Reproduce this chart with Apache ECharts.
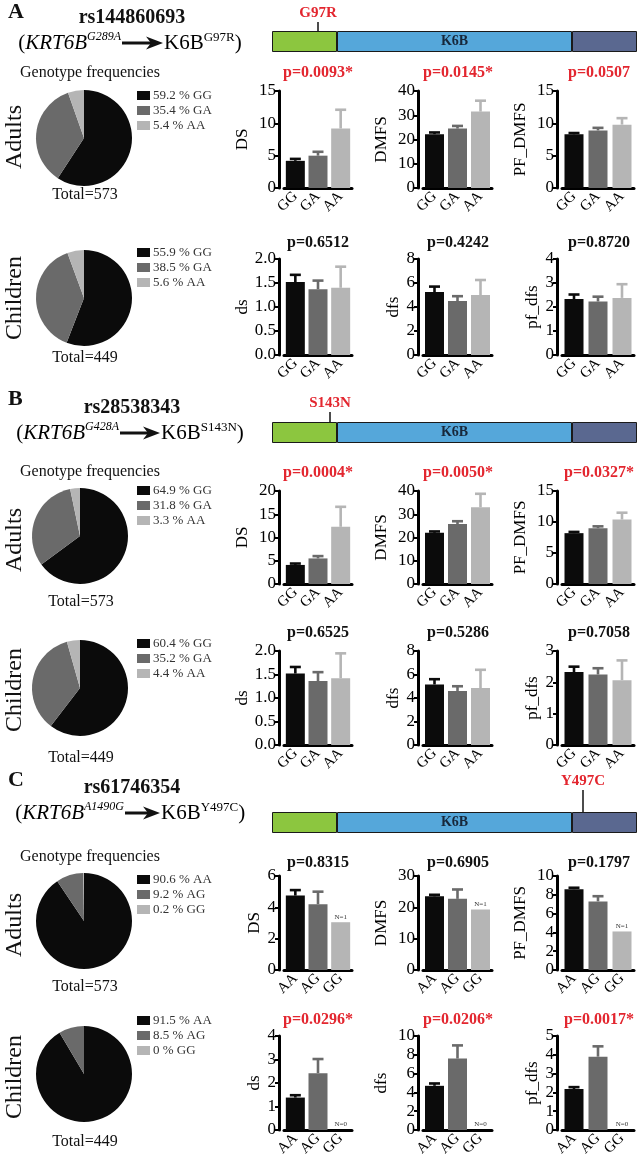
<!DOCTYPE html>
<html><head><meta charset="utf-8">
<script src="https://cdn.jsdelivr.net/npm/echarts/dist/echarts.min.js"></script>
<style>html,body{margin:0;padding:0;background:#fff}#c{width:643px;height:1160px}</style>
</head><body><div id="c"></div><script>
const FONT = 'Liberation Serif';
const RED = '#e3262f';
const SHADES = ['#0b0b0b', '#6a6a6a', '#b5b5b5'];
const DOMCOL = ['#8cc63f', '#55a7da', '#5a6890'];

// ---- categories ----
const genoGA = ['GG', 'GA', 'AA'];
const genoAG = ['AA', 'AG', 'GG'];

// ---- genotype frequencies (%) ----
const pieA_adults = [59.2, 35.4, 5.4];
const pieA_children = [55.9, 38.5, 5.6];
const pieB_adults = [64.9, 31.8, 3.3];
const pieB_children = [60.4, 35.2, 4.4];
const pieC_adults = [90.6, 9.2, 0.2];
const pieC_children = [91.5, 8.5, 0];
const totals = ['Total=573', 'Total=449'];

// ---- bar means and mean+SEM tops ----
const A1_DS = [4.2, 5.0, 9.2],      A1_DS_top = [4.5, 5.6, 12.1];
const A1_DMFS = [22.2, 24.5, 31.5], A1_DMFS_top = [22.9, 25.6, 36.0];
const A1_PF = [8.3, 8.9, 9.8],      A1_PF_top = [8.5, 9.3, 10.8];
const A2_ds = [1.52, 1.37, 1.40],   A2_ds_top = [1.67, 1.55, 1.84];
const A2_dfs = [5.25, 4.5, 5.0],    A2_dfs_top = [5.7, 4.9, 6.25];
const A2_pf = [2.33, 2.23, 2.38],   A2_pf_top = [2.52, 2.43, 2.95];

const B1_DS = [4.1, 5.5, 12.3],     B1_DS_top = [4.4, 6.0, 16.6];
const B1_DMFS = [22.0, 25.8, 33.0], B1_DMFS_top = [22.6, 27.0, 38.8];
const B1_PF = [8.2, 9.0, 10.4],     B1_PF_top = [8.4, 9.3, 11.5];
const B2_ds = [1.52, 1.36, 1.42],   B2_ds_top = [1.66, 1.55, 1.95];
const B2_dfs = [5.15, 4.6, 4.85],   B2_dfs_top = [5.6, 5.0, 6.4];
const B2_pf = [2.33, 2.25, 2.07],   B2_pf_top = [2.5, 2.45, 2.7];

const C1_DS = [4.75, 4.2, 3.05],    C1_DS_top = [5.1, 5.0, null];
const C1_DMFS = [23.5, 22.7, 19.3], C1_DMFS_top = [24.0, 25.7, null];
const C1_PF = [8.6, 7.3, 4.1],      C1_PF_top = [8.75, 7.85, null];
const C2_ds = [1.38, 2.42, 0],      C2_ds_top = [1.48, 3.02, null];
const C2_dfs = [4.7, 7.6, 0],       C2_dfs_top = [4.95, 9.0, null];
const C2_pf = [2.18, 3.9, 0],       C2_pf_top = [2.28, 4.45, null];

const nC1 = ['', '', 'N=1'];
const nC2 = ['', '', 'N=0'];

// ---- p values ----
const pA1 = ['p=0.0093*', 'p=0.0145*', 'p=0.0507'];
const pA2 = ['p=0.6512', 'p=0.4242', 'p=0.8720'];
const pB1 = ['p=0.0004*', 'p=0.0050*', 'p=0.0327*'];
const pB2 = ['p=0.6525', 'p=0.5286', 'p=0.7058'];
const pC1 = ['p=0.8315', 'p=0.6905', 'p=0.1797'];
const pC2 = ['p=0.0296*', 'p=0.0206*', 'p=0.0017*'];

// ---- protein diagram ----
const domainLengths = [65, 235, 65];
const domainNames = ['', 'K6B', ''];
const mutationPos = [46, 58, 311];
const mutationName = ['G97R', 'S143N', 'Y497C'];
const panelLetters = ['A', 'B', 'C'];
const snpIds = ['rs144860693', 'rs28538343', 'rs61746354'];
const geneChange = ['G289A', 'G428A', 'A1490G'];
const protChange = ['G97R', 'S143N', 'Y497C'];

// ---- layout ----
const cols = [
  {left: 284, width: 68, pX: 318},
  {left: 423, width: 69, pX: 458},
  {left: 562, width: 72, pX: 599}
];
const rows = [
  {top: 91, h: 97, pY: 73},
  {top: 259, h: 96, pY: 243},
  {top: 491, h: 93, pY: 473},
  {top: 651, h: 94, pY: 633},
  {top: 876, h: 94, pY: 863},
  {top: 1036, h: 94, pY: 1020}
];

const charts = [
  {r:0,c:0,name:'DS',m:A1_DS,e:A1_DS_top,max:15,iv:5,dec:0,cats:genoGA,p:pA1[0]},
  {r:0,c:1,name:'DMFS',m:A1_DMFS,e:A1_DMFS_top,max:40,iv:10,dec:0,cats:genoGA,p:pA1[1]},
  {r:0,c:2,name:'PF_DMFS',m:A1_PF,e:A1_PF_top,max:15,iv:5,dec:0,cats:genoGA,p:pA1[2]},
  {r:1,c:0,name:'ds',m:A2_ds,e:A2_ds_top,max:2,iv:0.5,dec:1,cats:genoGA,p:pA2[0]},
  {r:1,c:1,name:'dfs',m:A2_dfs,e:A2_dfs_top,max:8,iv:2,dec:0,cats:genoGA,p:pA2[1]},
  {r:1,c:2,name:'pf_dfs',m:A2_pf,e:A2_pf_top,max:4,iv:1,dec:0,cats:genoGA,p:pA2[2]},
  {r:2,c:0,name:'DS',m:B1_DS,e:B1_DS_top,max:20,iv:5,dec:0,cats:genoGA,p:pB1[0]},
  {r:2,c:1,name:'DMFS',m:B1_DMFS,e:B1_DMFS_top,max:40,iv:10,dec:0,cats:genoGA,p:pB1[1]},
  {r:2,c:2,name:'PF_DMFS',m:B1_PF,e:B1_PF_top,max:15,iv:5,dec:0,cats:genoGA,p:pB1[2]},
  {r:3,c:0,name:'ds',m:B2_ds,e:B2_ds_top,max:2,iv:0.5,dec:1,cats:genoGA,p:pB2[0]},
  {r:3,c:1,name:'dfs',m:B2_dfs,e:B2_dfs_top,max:8,iv:2,dec:0,cats:genoGA,p:pB2[1]},
  {r:3,c:2,name:'pf_dfs',m:B2_pf,e:B2_pf_top,max:3,iv:1,dec:0,cats:genoGA,p:pB2[2]},
  {r:4,c:0,name:'DS',m:C1_DS,e:C1_DS_top,max:6,iv:2,dec:0,cats:genoAG,p:pC1[0],n:nC1},
  {r:4,c:1,name:'DMFS',m:C1_DMFS,e:C1_DMFS_top,max:30,iv:10,dec:0,cats:genoAG,p:pC1[1],n:nC1},
  {r:4,c:2,name:'PF_DMFS',m:C1_PF,e:C1_PF_top,max:10,iv:2,dec:0,cats:genoAG,p:pC1[2],n:nC1},
  {r:5,c:0,name:'ds',m:C2_ds,e:C2_ds_top,max:4,iv:1,dec:0,cats:genoAG,p:pC2[0],n:nC2},
  {r:5,c:1,name:'dfs',m:C2_dfs,e:C2_dfs_top,max:10,iv:2,dec:0,cats:genoAG,p:pC2[1],n:nC2},
  {r:5,c:2,name:'pf_dfs',m:C2_pf,e:C2_pf_top,max:5,iv:1,dec:0,cats:genoAG,p:pC2[2],n:nC2}
];

const pies = [
  {vals: pieA_adults, cats: genoGA, cx: 84, cy: 138, legTop: 89, total: totals[0], totY: 195, grp: 'Adults', gY: 137},
  {vals: pieA_children, cats: genoGA, cx: 84, cy: 298, legTop: 246, total: totals[1], totY: 358, grp: 'Children', gY: 298},
  {vals: pieB_adults, cats: genoGA, cx: 80, cy: 536, legTop: 484, total: totals[0], totY: 602, grp: 'Adults', gY: 540},
  {vals: pieB_children, cats: genoGA, cx: 80, cy: 688, legTop: 637, total: totals[1], totY: 758, grp: 'Children', gY: 690},
  {vals: pieC_adults, cats: genoAG, cx: 84, cy: 921, legTop: 873, total: totals[0], totY: 987, grp: 'Adults', gY: 925},
  {vals: pieC_children, cats: genoAG, cx: 84, cy: 1074, legTop: 1014, total: totals[1], totY: 1142, grp: 'Children', gY: 1077}
];
const gfY = [73, 472, 857];

const headers = [
  {ly: 12, rsy: 18, ky: 43, a1: 122, a2: 163, domTop: 31, tick: 9},
  {ly: 399, rsy: 408, ky: 433, a1: 120, a2: 160, domTop: 422, tick: 10},
  {ly: 780, rsy: 788, ky: 813, a1: 125, a2: 160, domTop: 812, tick: 22}
];

const grids = [], xAxes = [], yAxes = [], series = [], graphics = [], legends = [];

charts.forEach((ch, k) => {
  const col = cols[ch.c], row = rows[ch.r];
  grids.push({left: col.left, top: row.top, width: col.width, height: row.h});
  xAxes.push({
    gridIndex: k, type: 'category', data: ch.cats,
    axisLine: {lineStyle: {color: '#000', width: 3}},
    axisTick: {alignWithLabel: true, length: 4, lineStyle: {color: '#000', width: 2}},
    axisLabel: {interval: 0, rotate: 45, fontFamily: FONT, fontSize: 15, color: '#000', margin: 6}
  });
  const wide = ch.dec > 0 || ch.max >= 10;
  yAxes.push({
    gridIndex: k, type: 'value', min: 0, max: ch.max, interval: ch.iv, offset: 5,
    name: ch.name, nameLocation: 'middle', nameGap: wide ? 28 : 16,
    nameTextStyle: {fontFamily: FONT, fontSize: 17, color: '#000'},
    axisLine: {show: true, lineStyle: {color: '#000', width: 3}},
    axisTick: {show: true, length: 4, lineStyle: {color: '#000', width: 2}},
    splitLine: {show: false},
    axisLabel: {fontFamily: FONT, fontSize: 17, color: '#000', margin: 3,
      formatter: v => v.toFixed(ch.dec)}
  });
  series.push({
    type: 'bar', xAxisIndex: k, yAxisIndex: k, barWidth: 19, silent: true, animation: false,
    data: ch.m.map((v, i) => ({
      value: v, itemStyle: {color: SHADES[i]},
      label: {show: !!(ch.n && ch.n[i]), position: 'top', distance: 2,
        formatter: ch.n ? ch.n[i] : '', fontFamily: FONT, fontSize: 7, color: '#333'}
    }))
  });
  series.push({
    type: 'custom', xAxisIndex: k, yAxisIndex: k, silent: true, animation: false, z: 3,
    encode: {x: 0, y: [1, 2]},
    data: ch.e.map((t, i) => t == null ? null : [i, ch.m[i], t]).filter(Boolean),
    renderItem: (params, api) => {
      const i = api.value(0);
      const b = api.coord([i, api.value(1)]);
      const t = api.coord([i, api.value(2)]);
      const st = {stroke: SHADES[i], lineWidth: 2.6};
      return {type: 'group', children: [
        {type: 'line', shape: {x1: b[0], y1: b[1], x2: t[0], y2: t[1]}, style: st},
        {type: 'line', shape: {x1: t[0] - 5.5, y1: t[1], x2: t[0] + 5.5, y2: t[1]}, style: st}
      ]};
    }
  });
  const pv = parseFloat(ch.p.replace('p=', ''));
  graphics.push({type: 'text', x: col.pX, y: row.pY, silent: true,
    style: {text: ch.p, fontFamily: FONT, fontWeight: 'bold', fontSize: 16,
      fill: pv < 0.06 ? RED : '#111', textAlign: 'center', textVerticalAlign: 'middle'}});
});

// protein diagrams
headers.forEach((h, p) => {
  const gi = grids.length;
  grids.push({left: 272, top: h.domTop, width: 365, height: 21});
  xAxes.push({gridIndex: gi, type: 'value', min: 0, max: domainLengths.reduce((a, b) => a + b, 0), show: false});
  yAxes.push({gridIndex: gi, type: 'category', data: ['K6B'], show: false});
  domainLengths.forEach((len, j) => {
    series.push({
      type: 'bar', stack: 'dom' + p, xAxisIndex: gi, yAxisIndex: gi, barWidth: 21,
      silent: true, animation: false, data: [len],
      itemStyle: {color: DOMCOL[j], borderColor: '#1a1a1a', borderWidth: 1},
      label: {show: !!domainNames[j], position: 'inside', formatter: domainNames[j],
        fontFamily: FONT, fontWeight: 'bold', fontSize: 14, color: '#17273a'}
    });
  });
  series.push({
    type: 'custom', xAxisIndex: gi, yAxisIndex: gi, silent: true, animation: false, z: 5,
    data: [[mutationPos[p], 0]],
    renderItem: (params, api) => {
      const pt = api.coord([api.value(0), 0]);
      const top = pt[1] - 10.5;
      return {type: 'group', children: [
        {type: 'line', shape: {x1: pt[0], y1: top - h.tick, x2: pt[0], y2: top}, style: {stroke: '#111', lineWidth: 1.5}},
        {type: 'text', style: {x: pt[0], y: top - h.tick - 9, text: mutationName[p], fontFamily: FONT,
          fontWeight: 'bold', fontSize: 15, fill: RED, textAlign: 'center', textVerticalAlign: 'middle'}}
      ]};
    }
  });
  // header texts
  graphics.push({type: 'text', x: 8, y: h.ly, silent: true, style: {text: panelLetters[p], fontFamily: FONT,
    fontWeight: 'bold', fontSize: 22, fill: '#111', textAlign: 'left', textVerticalAlign: 'middle'}});
  graphics.push({type: 'text', x: 132, y: h.rsy, silent: true, style: {text: snpIds[p], fontFamily: FONT,
    fontWeight: 'bold', fontSize: 20, fill: '#111', textAlign: 'center', textVerticalAlign: 'middle'}});
  const rich = {
    n: {fontFamily: FONT, fontSize: 21, lineHeight: 24, color: '#111'},
    i: {fontFamily: FONT, fontStyle: 'italic', fontSize: 21, lineHeight: 24, color: '#111'},
    s: {fontFamily: FONT, fontStyle: 'italic', fontSize: 12, verticalAlign: 'top', color: '#111'},
    s2: {fontFamily: FONT, fontSize: 13, verticalAlign: 'top', color: '#111'}
  };
  graphics.push({type: 'text', x: h.a1 - 1, y: h.ky, silent: true, style: {
    text: '{n|(}{i|KRT6B}{s|' + geneChange[p] + '}', rich: rich,
    textAlign: 'right', textVerticalAlign: 'middle'}});
  graphics.push({type: 'text', x: h.a2 + 1, y: h.ky, silent: true, style: {
    text: '{n|K6B}{s2|' + protChange[p] + '}{n|)}', rich: rich,
    textAlign: 'left', textVerticalAlign: 'middle'}});
  graphics.push({type: 'line', silent: true, shape: {x1: h.a1, y1: h.ky, x2: h.a2 - 10, y2: h.ky},
    style: {stroke: '#111', lineWidth: 3}});
  graphics.push({type: 'polygon', silent: true,
    shape: {points: [[h.a2, h.ky], [h.a2 - 17, h.ky - 6.5], [h.a2 - 12, h.ky], [h.a2 - 17, h.ky + 6.5]]},
    style: {fill: '#111'}});
  graphics.push({type: 'text', x: 20, y: gfY[p], silent: true, style: {text: 'Genotype frequencies',
    fontFamily: FONT, fontSize: 16, fill: '#111', textAlign: 'left', textVerticalAlign: 'middle'}});
});

// pies
pies.forEach((pc, q) => {
  const names = pc.vals.map((v, i) => v + ' % ' + pc.cats[i]);
  series.push({
    type: 'pie', center: [pc.cx, pc.cy], radius: 48, startAngle: 90, clockwise: true,
    silent: true, animation: false, label: {show: false}, labelLine: {show: false},
    emphasis: {disabled: true}, stillShowZeroSum: true,
    data: pc.vals.map((v, i) => ({name: names[i], value: v, itemStyle: {color: SHADES[i]}}))
  });
  legends.push({
    orient: 'vertical', left: 137, top: pc.legTop, padding: 0, itemWidth: 13, itemHeight: 9,
    itemGap: 2, icon: 'rect', selectedMode: false, data: names,
    textStyle: {fontFamily: FONT, fontSize: 13, color: '#333', lineHeight: 10, padding: [0, 0, 0, -2]}
  });
  graphics.push({type: 'text', x: pc.cx + 1, y: pc.totY, silent: true, style: {text: pc.total,
    fontFamily: FONT, fontSize: 16, fill: '#111', textAlign: 'center', textVerticalAlign: 'middle'}});
  graphics.push({type: 'text', x: 15, y: pc.gY, rotation: Math.PI / 2, silent: true, style: {text: pc.grp,
    fontFamily: FONT, fontSize: 24, fill: '#111', textAlign: 'center', textVerticalAlign: 'middle'}});
});

const chart = echarts.init(document.getElementById('c'), null, {renderer: 'canvas'});
chart.setOption({
  backgroundColor: '#fff', animation: false,
  grid: grids, xAxis: xAxes, yAxis: yAxes, series: series, legend: legends, graphic: graphics
});
</script></body></html>
